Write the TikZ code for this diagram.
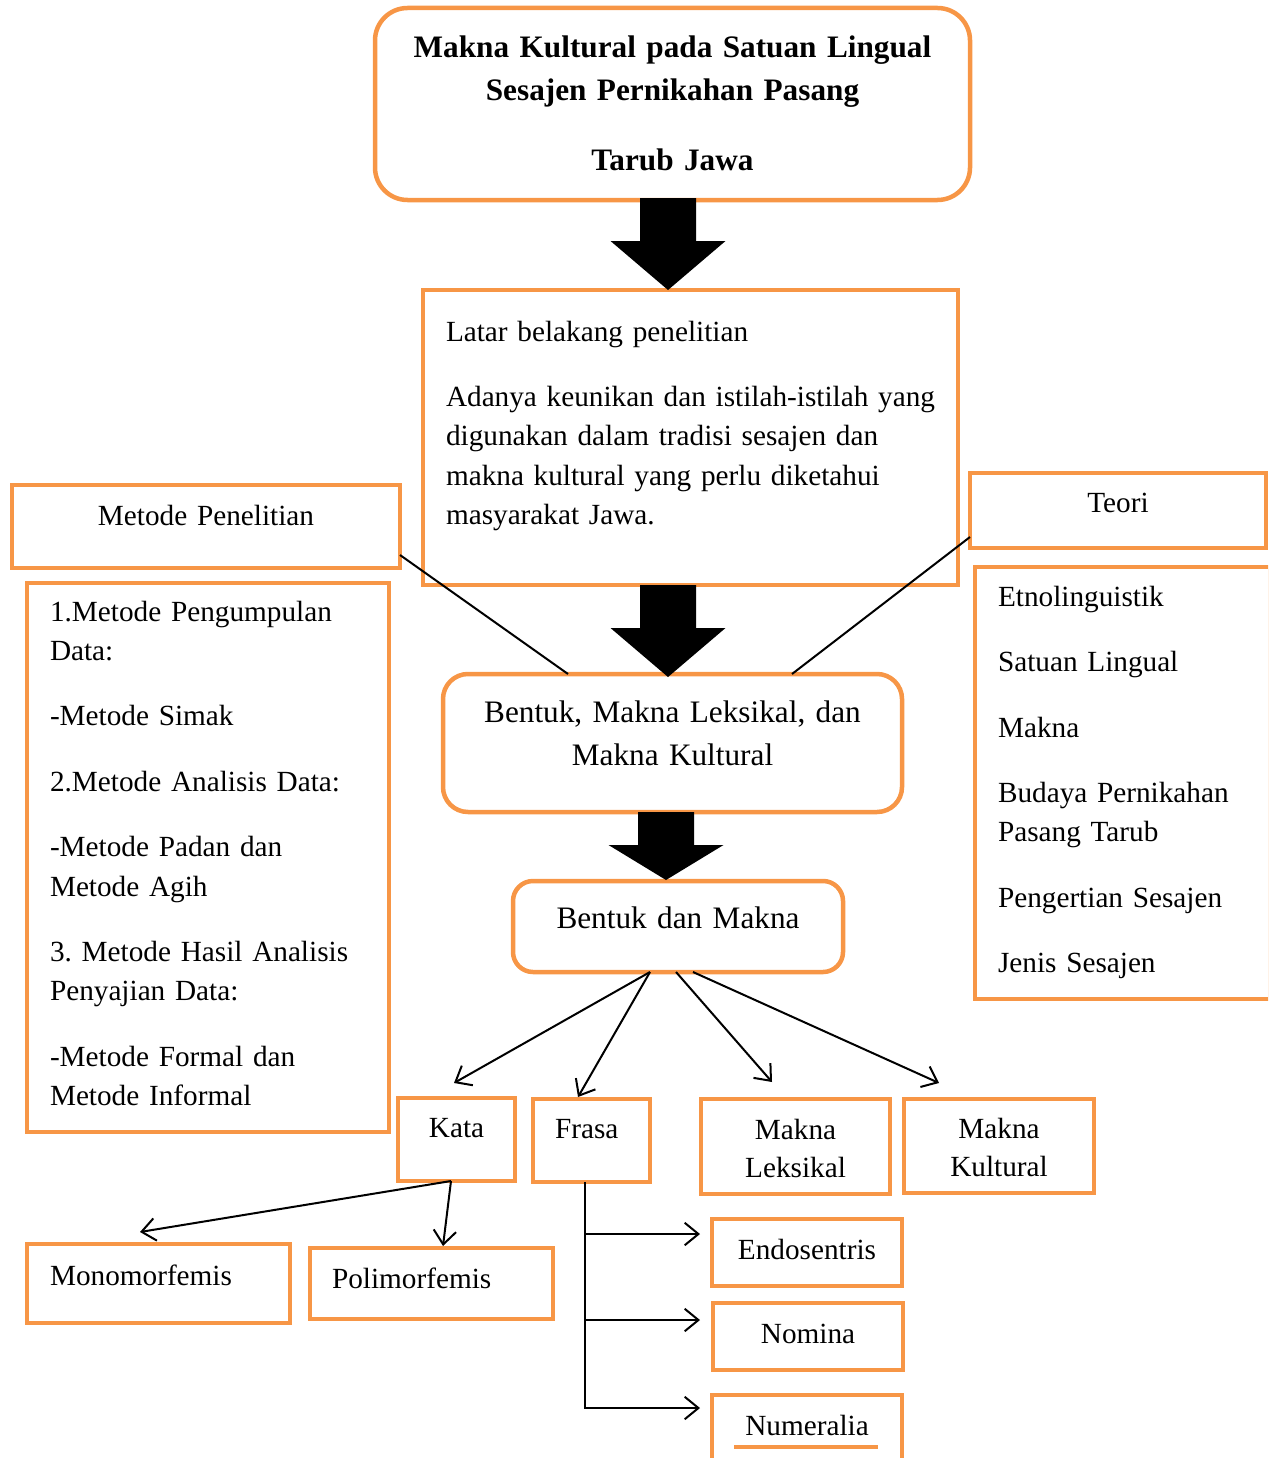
\documentclass[tikz,border=0pt]{standalone}
\usepackage{fontspec}
\setmainfont{Liberation Serif}
\usetikzlibrary{arrows.meta, calc, positioning}
\definecolor{tangerine}{RGB}{247,150,70}
\frenchspacing

% thick black block arrow: #1 start (centre of shaft top), #2 shaft length, #3 head length
\newcommand{\blockarrow}[3]{%
  \fill[black] #1 ++(-28,0) -- ++(56,0) -- ++(0,#2) -- ++(29.5,0) -- ++(-57.5,#3) -- ++(-57.5,-#3) -- ++(29.5,0) -- cycle;}

\begin{document}
\begin{tikzpicture}[x=0.4pt, y=-0.4pt,
  font=\fontsize{11.7}{15.7}\selectfont,
  obox/.style={draw=tangerine, line width=1.8pt, inner sep=0pt, outer sep=0pt, anchor=north west, align=center},
  rbox/.style={obox, rounded corners=#1},
  big/.style={font=\fontsize{12.5}{17.2}\selectfont},
  conn/.style={draw=black, line width=0.8pt},
  arr/.style={conn, -{Straight Barb[length=5.5pt, width=9pt]}}]
  \clip (0,0) rectangle (1268,1458);

  % Title
  \node[rbox=13pt, font=\fontsize{12.5}{17.2}\selectfont\bfseries, text width=238pt, text height=20pt, text depth=56.8pt] (title) at (375,8)
    {Makna Kultural pada Satuan Lingual\\ Sesajen Pernikahan Pasang\\[10.4pt] Tarub Jawa};

  % Background of the research
  \node[obox, align=left, text width=195.6pt, inner xsep=9.2pt, text height=20.4pt, text depth=97.6pt] (latar) at (423,290)
    {Latar belakang penelitian\\[10.5pt]
     \mbox{Adanya keunikan dan istilah-istilah yang}\\
     digunakan dalam tradisi sesajen dan\\
     makna kultural yang perlu diketahui\\
     masyarakat Jawa.};

  % Method side
  \node[obox, text width=155.2pt, text height=16pt, text depth=17.2pt] (metode) at (12,485) {Metode Penelitian};
  \node[obox, align=left, text width=126.4pt, inner xsep=9.2pt, text height=15.2pt, text depth=204.4pt] (metodelist) at (27,583)
    {1.Metode Pengumpulan\\ Data:\\[10.5pt]
     -Metode Simak\\[10.5pt]
     2.Metode Analisis Data:\\[10.5pt]
     -Metode Padan dan\\ Metode Agih\\[10.5pt]
     3. Metode Hasil Analisis\\ Penyajian Data:\\[10.5pt]
     -Metode Formal dan\\ Metode Informal};

  % Theory side
  \node[obox, text width=118.4pt, text height=15.6pt, text depth=14.4pt] (teori) at (970,473) {Teori};
  \node[obox, align=left, text width=99.6pt, inner xsep=9.2pt, text height=15.6pt, text depth=157.2pt] (teorilist) at (975,567)
    {Etnolinguistik\\[10.5pt]
     Satuan Lingual\\[10.5pt]
     Makna\\[10.5pt]
     Budaya Pernikahan\\ Pasang Tarub\\[10.5pt]
     Pengertian Sesajen\\[10.5pt]
     Jenis Sesajen};

  % Middle column
  \node[rbox=10pt, big, text width=183.6pt, text height=19.2pt, text depth=36pt] (bentuk) at (443,674)
    {Bentuk, Makna Leksikal, dan\\ Makna Kultural};
  \node[rbox=8pt, big, text width=132pt, text height=18.8pt, text depth=17.6pt] (bdm) at (513,881) {Bentuk dan Makna};

  % Forms and meanings
  \node[obox, text width=46.8pt, text height=15.6pt, text depth=17.6pt] (kata) at (398,1098) {Kata};
  \node[obox, align=left, text width=29.2pt, inner xsep=8.8pt, text height=15.6pt, text depth=17.6pt] (frasa) at (533,1099) {Frasa};
  \node[obox, text width=75.6pt, text height=16pt, text depth=22pt] (leksikal) at (701,1099) {Makna\\[-0.5pt] Leksikal};
  \node[obox, text width=76pt, text height=15.6pt, text depth=22pt] (kultural) at (904,1099) {Makna\\[-0.5pt] Kultural};

  % Kinds of words
  \node[obox, align=left, text width=86.8pt, inner xsep=9.2pt, text height=16.4pt, text depth=15.2pt] (mono) at (27,1244) {Monomorfemis};
  \node[obox, align=left, text width=79.6pt, inner xsep=8.8pt, text height=16pt, text depth=12.4pt] (poli) at (310,1248) {Polimorfemis};

  % Kinds of phrases
  \node[obox, text width=76pt, text height=16pt, text depth=10.8pt] (endo) at (712,1219) {Endosentris};
  \node[obox, text width=76pt, text height=16pt, text depth=10.8pt] (nomina) at (713,1303) {Nomina};
  \node[obox, text width=76pt, text height=16pt, text depth=14pt] (numeralia) at (712,1395) {Numeralia};
  \draw[tangerine, line width=1.6pt] (734,1447) -- (878,1447);

  % Block arrows
  \blockarrow{($(title.south)+(-4.5,-2)$)}{43}{49}
  \blockarrow{($(latar.south)+(-22.5,0)$)}{43}{49}
  \blockarrow{($(bentuk.south)+(-6.5,0)$)}{33}{35}

  % Side lines into the middle box
  \draw[conn] ($(metode.south east)+(0,-13)$) -- ($(bentuk.north west)+(125,0)$);
  \draw[conn] ($(teori.south west)+(0,-11)$) -- ($(bentuk.north west)+(349,0)$);

  % Arrows from Bentuk dan Makna
  \draw[arr] ($(bdm.south)+(-28,0)$) -- ($(kata.north)+(-2.5,-15)$);
  \draw[arr] ($(bdm.south)+(-28,0)$) -- ($(frasa.north)+(-13.5,-2)$);
  \draw[arr] ($(bdm.south)+(-2,0)$) -- ($(leksikal.north)+(-23.5,-17)$);
  \draw[arr] ($(bdm.south)+(15,0)$) -- ($(kultural.north)+(-60,-16)$);

  % Arrows from Kata
  \draw[arr] ($(kata.south)+(-5.5,0)$) -- ($(mono.north)+(-18.5,-12)$);
  \draw[arr] ($(kata.south)+(-5.5,0)$) -- ($(poli.north)+(11.5,-2)$);

  % Arrows from Frasa
  \coordinate (ftop) at ($(frasa.south)+(-6.5,0)$);
  \coordinate (e1) at ($(endo.north west)+(-12,15)$);
  \coordinate (e2) at ($(nomina.north west)+(-13,17)$);
  \coordinate (e3) at ($(numeralia.north west)+(-12,13)$);
  \draw[arr] (ftop) |- (e3);
  \draw[arr] (ftop |- e1) -- (e1);
  \draw[arr] (ftop |- e2) -- (e2);
\end{tikzpicture}
\end{document}
